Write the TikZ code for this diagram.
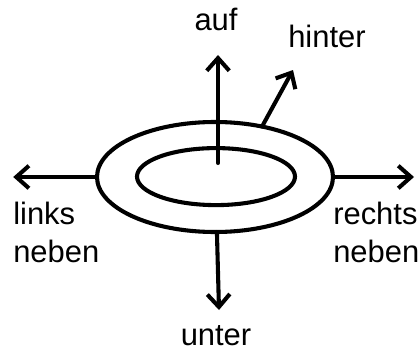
\documentclass[tikz,border=0pt]{standalone}
\usepackage{fontspec}
\setmainfont{Liberation Sans}
\usetikzlibrary{shapes.geometric,arrows.meta}
\begin{document}
\begin{tikzpicture}

      \tikzset{ring/.style={draw, ellipse, inner sep=0pt, outer sep=0pt, line width=2.9pt},
               pointer/.style={line width=2.9pt, line cap=round, -{Straight Barb[length=9pt, width=16pt]}},
               word/.style={inner sep=0pt, font=\fontsize{22}{27}\selectfont}}
      \useasboundingbox (0,0) rectangle (10.475,8.825);
% Rings
      	\node[ring, minimum width=5.9cm, minimum height=2.75cm] (outer) at (5.375,4.4) {};
      	\node[ring, minimum width=3.95cm, minimum height=1.425cm] (inner) at (5.4,4.41) {};
% Labels
      	\node[word, anchor=base] (auf) at (5.4,8.05) {auf};
      	\node[word, anchor=base west] (hinter) at (7.2,7.64) {hinter};
      	\node[word, anchor=north west, align=left] (links) at (0.325,3.78) {links\\neben};
      	\node[word, anchor=north west, align=left] (rechts) at (8.325,3.78) {rechts\\neben};
      	\node[word, anchor=base] (unter) at (5.4,0.2) {unter};
% Arrow ends
      	\coordinate (upfoot) at (5.45,4.75);
      	\coordinate (uptip) at (5.45,7.45);
      	\coordinate (backtip) at (7.325,7.075);
      	\coordinate (lefttip) at (0.33,4.4);
      	\coordinate (righttip) at (10.35,4.4);
      	\coordinate (downtip) at (5.475,1.075);
%Arrows
		\path (upfoot) edge[pointer] (uptip);
		\path (outer.47) edge[pointer] (backtip);
		\path (outer.west) edge[pointer] (lefttip);
		\path (outer.east) edge[pointer] (righttip);
		\path (outer.-88) edge[pointer] (downtip);

	\end{tikzpicture}
\end{document}
